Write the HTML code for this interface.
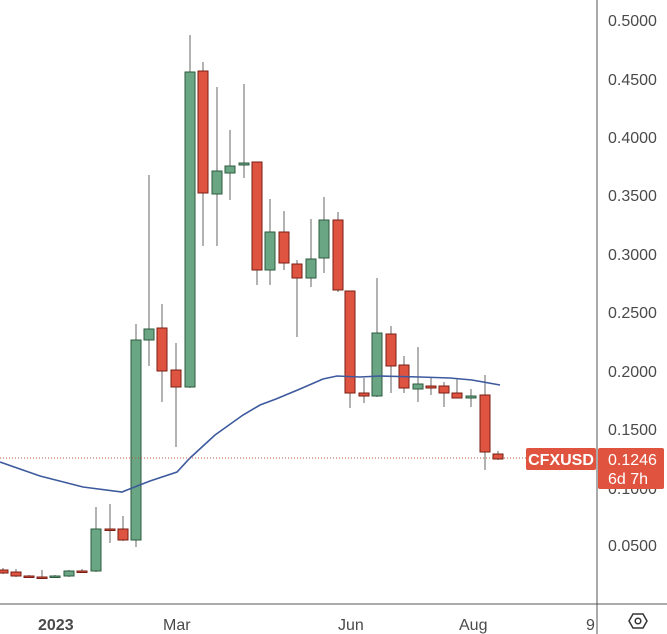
<!DOCTYPE html>
<html><head><meta charset="utf-8"><style>
html,body{margin:0;padding:0;background:#fff;}
svg{display:block;font-family:"Liberation Sans","DejaVu Sans",sans-serif;}
</style></head><body>
<svg width="667" height="634" viewBox="0 0 667 634" xmlns="http://www.w3.org/2000/svg">
<rect width="667" height="634" fill="#fff"/>
<g id="c" stroke-width="1"></g>
<polyline fill="none" stroke="#3d5a9e" stroke-width="1.6" points="0,462 40,476 83,487 122,492 150,481 177,472 190,458 215,435 243,415 260,405 276,399 300,389 323,379 337,376 360,377 380,376 420,377 450,378 472,380 500,385"/>
<line x1="0" y1="458" x2="530" y2="458" stroke="#c0583f" stroke-width="1" stroke-dasharray="1,2"/>
<line x1="597" y1="0" x2="597" y2="634" stroke="#555" stroke-width="1"/>
<line x1="0" y1="604" x2="667" y2="604" stroke="#555" stroke-width="1"/>
<g fill="#4a4a4a" font-size="16">
<text x="608" y="26">0.5000</text>
<text x="608" y="85">0.4500</text>
<text x="608" y="143">0.4000</text>
<text x="608" y="201">0.3500</text>
<text x="608" y="260">0.3000</text>
<text x="608" y="318">0.2500</text>
<text x="608" y="377">0.2000</text>
<text x="608" y="435">0.1500</text>
<text x="608" y="494">0.1000</text>
<text x="608" y="551">0.0500</text>
<text x="38" y="630" font-weight="bold">2023</text>
<text x="163" y="630">Mar</text>
<text x="338" y="630">Jun</text>
<text x="459" y="630">Aug</text>
<text x="586" y="630">9</text>
</g>
<rect x="526" y="448" width="70" height="22" rx="2" fill="#e0533f"/>
<text x="561" y="465" text-anchor="middle" fill="#fff" font-size="16" font-weight="bold">CFXUSD</text>
<rect x="598" y="448" width="66" height="41" rx="2" fill="#e0533f"/>
<text x="608" y="465" fill="#fff" font-size="16">0.1246</text>
<text x="608" y="484" fill="#fff" font-size="16">6d 7h</text>
<polygon points="629,621 633,614 643,614 647,621 643,628 633,628" fill="none" stroke="#333" stroke-width="1.5"/>
<circle cx="638" cy="621" r="2.8" fill="none" stroke="#333" stroke-width="1.5"/>
</svg>
<script>
var d=[
[3,570,573,568,574,'r'],[16,572,576,569,577,'r'],[29,576,577,575,578,'r'],[42,577,577,570,578,'r'],
[55,576,577,575,578,'g'],[69,571,576,570,577,'g'],[82,571,571,569,572,'r'],[96,529,571,507,572,'g'],
[110,529,529,504,543,'r'],[123,529,540,516,541,'r'],[136,340,540,324,547,'g'],[149,329,340,175,366,'g'],
[162,328,371,304,402,'r'],[176,370,387,343,447,'r'],[190,72,387,35,388,'g'],[203,71,193,62,246,'r'],
[217,171,194,87,246,'g'],[230,166,173,130,200,'g'],[244,163,165,84,178,'g'],[257,162,270,162,285,'r'],
[270,232,270,199,285,'g'],[284,232,263,211,270,'r'],[297,264,278,260,337,'r'],[311,259,278,219,287,'g'],
[324,220,258,197,273,'g'],[338,220,290,212,292,'r'],[350,291,393,291,408,'r'],[364,393,396,378,403,'r'],
[377,333,396,278,397,'g'],[391,334,366,326,393,'r'],[404,365,388,356,393,'r'],[418,384,389,347,402,'g'],
[431,386,388,378,395,'r'],[444,386,393,382,407,'r'],[457,393,398,378,397,'r'],[471,396,398,389,407,'g'],
[485,395,452,375,470,'r'],[498,454,459,451,460,'r']];
var g=document.getElementById('c'),s='';
d.forEach(function(c){var x=c[0],t=c[1],b=c[2],h=c[3],l=c[4],r=c[5]=='r';
s+='<line x1="'+x+'" y1="'+h+'" x2="'+x+'" y2="'+l+'" stroke="#666"/>';
var hh=Math.max(b-t,1.5);
s+='<rect x="'+(x-5)+'" y="'+t+'" width="10" height="'+hh+'" fill="'+(r?'#df5440':'#6aa584')+'" stroke="'+(r?'#7a1e14':'#2c5a3c')+'"/>';});
g.innerHTML=s;
</script>
</body></html>
